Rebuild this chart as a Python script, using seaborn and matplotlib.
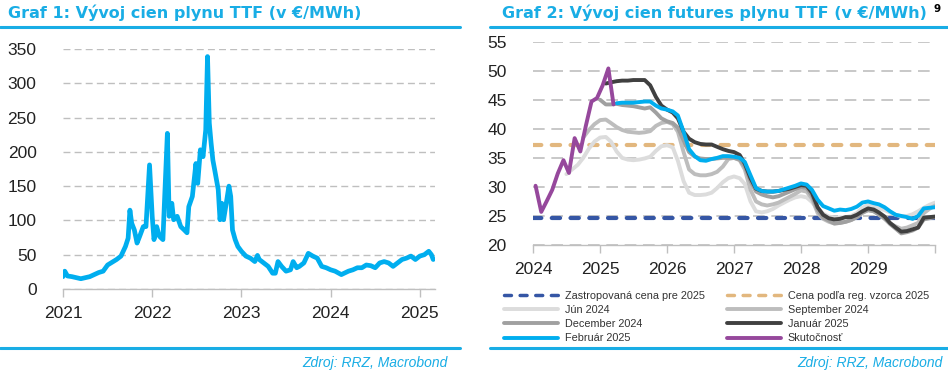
import numpy as np
import pandas as pd
import seaborn as sns
import matplotlib.pyplot as plt
from matplotlib.lines import Line2D

## Data - Graf 1 (TTF spot, decimal year)
ttf_year = [2021.00, 2021.02, 2021.05, 2021.10, 2021.20, 2021.30, 2021.40, 2021.45, 2021.50,
            2021.60, 2021.65, 2021.70, 2021.73, 2021.75, 2021.77, 2021.80, 2021.83, 2021.86,
            2021.90, 2021.93, 2021.97, 2022.00, 2022.02, 2022.05, 2022.08, 2022.12, 2022.14,
            2022.17, 2022.19, 2022.22, 2022.24, 2022.28, 2022.32, 2022.36, 2022.39, 2022.41,
            2022.45, 2022.49, 2022.51, 2022.54, 2022.57, 2022.60, 2022.62, 2022.64, 2022.66,
            2022.68, 2022.70, 2022.74, 2022.76, 2022.78, 2022.80, 2022.83, 2022.86, 2022.88,
            2022.90, 2022.93, 2022.96, 2023.00, 2023.05, 2023.10, 2023.15, 2023.18, 2023.20,
            2023.25, 2023.30, 2023.35, 2023.38, 2023.41, 2023.45, 2023.50, 2023.55, 2023.58,
            2023.62, 2023.65, 2023.70, 2023.75, 2023.80, 2023.85, 2023.90, 2023.95, 2024.00,
            2024.05, 2024.12, 2024.20, 2024.25, 2024.30, 2024.35, 2024.40, 2024.45, 2024.50,
            2024.55, 2024.60, 2024.65, 2024.70, 2024.75, 2024.80, 2024.85, 2024.90, 2024.95,
            2025.00, 2025.05, 2025.10, 2025.13, 2025.15]
ttf_price = [18, 26, 19, 18, 15, 18, 24, 26, 35,
             43, 48, 62, 74, 115, 96, 86, 67, 77,
             91, 91, 181, 106, 72, 91, 77, 72, 135,
             227, 106, 125, 101, 106, 91, 86, 82, 120,
             135, 183, 154, 203, 193, 232, 339, 242, 213,
             188, 174, 145, 101, 125, 101, 125, 150, 135,
             86, 72, 62, 55, 48, 45, 40, 49, 43,
             38, 33, 23, 23, 40, 33, 26, 28, 40,
             31, 33, 38, 52, 48, 45, 33, 31, 28,
             26, 21, 26, 28, 31, 31, 35, 34, 31,
             38, 40, 38, 33, 38, 43, 45, 48, 43,
             48, 50, 55, 50, 43]

## Data - Graf 2 (futures curves, monthly)
actual_start = '2024-01'
actual_price = [30.2, 25.7, 27.5, 29.5, 32.3, 34.6, 32.4, 38.4, 36.1, 40.5, 44.7, 45.3,
                47.5, 50.4, 44.2]

jun24_start = '2024-07'
jun24 = [32.2, 33.0, 33.8, 35.0, 36.6, 37.8, 38.5, 38.6, 37.8, 36.1, 35.0, 34.7,
         34.6, 34.7, 34.9, 35.2, 36.2, 37.0, 37.2, 36.8, 34.5, 31.0, 29.0, 28.6,
         28.6, 28.7, 29.0, 29.8, 30.8, 31.5, 31.8, 31.5, 30.5, 27.5, 25.8, 25.6,
         25.8, 26.2, 26.8, 27.3, 27.8, 28.2, 28.4, 28.2, 27.4, 26.2, 25.4, 24.9,
         24.7, 24.7, 24.8, 25.0, 25.5, 26.4, 26.9, 26.7, 26.3, 26.0, 25.6, 25.2,
         24.9, 25.0, 25.3, 25.8, 26.4, 26.9, 27.3]

sep24_start = '2024-10'
sep24 = [38.5, 39.8, 40.8, 41.5, 41.6, 41.0, 40.3, 39.8, 39.5, 39.4, 39.3, 39.4,
         39.6, 40.5, 41.0, 41.2, 40.8, 39.5, 36.0, 33.0, 32.2, 32.0, 32.0, 32.2,
         32.6, 33.5, 34.8, 35.0, 34.6, 33.0, 29.5, 27.5, 27.0, 26.8, 27.0, 27.3,
         27.8, 28.3, 28.8, 29.4, 29.2, 28.0, 25.5, 24.5, 24.0, 23.7, 23.8, 24.0,
         24.3, 24.8, 25.5, 26.0, 25.8, 25.2, 24.5, 23.7, 23.2, 22.8, 23.0, 23.4,
         23.8, 25.5, 26.2, 26.8]

dec24_start = '2025-01'
dec24 = [45.0, 44.2, 44.2, 44.3, 44.1, 44.0, 43.9, 43.7, 43.5, 43.7, 42.8, 41.8,
         41.3, 41.0, 40.2, 38.0, 36.0, 35.2, 34.9, 34.8, 34.8, 34.9, 35.0, 35.0,
         35.0, 34.7, 33.5, 31.0, 29.2, 28.7, 28.4, 28.2, 28.4, 28.8, 29.2, 29.6,
         30.0, 29.8, 28.5, 26.0, 24.7, 24.2, 23.7, 23.8, 24.0, 24.3, 24.8, 25.6,
         26.0, 25.8, 25.3, 24.6, 23.6, 22.8, 22.0, 22.2, 22.5, 23.0, 24.4, 24.6,
         24.8]

jan25_start = '2025-02'
jan25 = [47.8, 48.0, 48.2, 48.3, 48.3, 48.4, 48.4, 48.4, 47.5, 45.5, 44.0, 43.3,
         42.8, 41.8, 39.5, 38.3, 37.7, 37.4, 37.3, 37.3, 36.9, 36.5, 36.2, 36.0,
         35.5, 34.0, 31.5, 29.7, 29.3, 29.2, 29.2, 29.3, 29.5, 29.7, 30.0, 30.3,
         30.2, 29.0, 26.5, 25.2, 24.6, 24.4, 24.5, 24.8, 24.8, 25.2, 25.8, 26.3,
         26.1, 25.6, 24.9, 23.8, 23.0, 22.3, 22.4, 22.7, 23.0, 24.7, 24.8, 24.9]

feb25_start = '2025-04'
feb25 = [44.4, 44.5, 44.5, 44.5, 44.6, 44.7, 44.7, 44.0, 43.5, 43.3, 43.0, 42.3,
         39.5, 36.5, 35.3, 34.6, 34.5, 34.8, 35.0, 35.3, 35.3, 35.2, 35.0, 34.3,
         32.0, 29.8, 29.3, 29.2, 29.2, 29.3, 29.6, 29.9, 30.2, 30.6, 30.4, 29.5,
         27.8, 26.7, 26.3, 25.9, 26.1, 26.0, 26.2, 26.6, 27.3, 27.5, 27.2, 27.0,
         26.5, 25.8, 25.2, 25.0, 24.8, 24.5, 25.0, 26.3, 26.4, 26.5]

cap_price = 24.6       # Zastropovana cena pre 2025
formula_price = 37.3   # Cena podla reg. vzorca 2025

## Style
BLUE = '#00AEEF'
TITLE_BLUE = '#19ADE5'
GRID = '#BFBFBF'
sns.set_theme(style='white')
plt.rcParams['font.family'] = ['Liberation Sans', 'DejaVu Sans']

fig = plt.figure(figsize=(9.48, 3.77), dpi=100)
W, H = 948, 377


def fx(px):
    return px / W


def fy(py):
    return 1 - py / H


def style_axis(ax, dash):
    for s in ['left', 'right', 'top']:
        ax.spines[s].set_visible(False)
    ax.spines['bottom'].set_color(GRID)
    ax.spines['bottom'].set_linewidth(1)
    ax.yaxis.grid(True, color=GRID, linestyle=dash[0], linewidth=dash[1])
    ax.xaxis.grid(False)
    ax.set_axisbelow(True)
    ax.tick_params(axis='x', which='both', bottom=True, length=6, width=1,
                   color=GRID, labelsize=12.5, labelcolor='#222222', pad=6)
    ax.tick_params(axis='y', left=False, labelsize=12.5, labelcolor='#222222', pad=13)
    ax.set_xlabel('')
    ax.set_ylabel('')


## Graf 1
ax1 = fig.add_axes([fx(63), fy(289), fx(435) - fx(63), fy(49) - fy(289)])
sns.lineplot(x=ttf_year, y=ttf_price, ax=ax1, color=BLUE, linewidth=3.4,
             solid_joinstyle='round', solid_capstyle='round')
ax1.set_xlim(2021, 2025.17)
ax1.set_ylim(0, 350)
ax1.set_yticks(range(0, 351, 50))
ax1.set_xticks([2021, 2022, 2023, 2024, 2025])
ax1.set_xticklabels(['2021', '2022', '2023', '2024', '2025'])
style_axis(ax1, ((0, (5, 3)), 1.0))

## Graf 2
ax2 = fig.add_axes([fx(533), fy(245), fx(935) - fx(533), fy(41.7) - fy(245)])


def month_dates(start, n, offset_days=0):
    return pd.date_range(start, periods=n, freq='MS') + pd.Timedelta(days=offset_days)


ax2.axhline(cap_price, color='#3556A5', linewidth=3, dashes=(2, 2.5),
            dash_capstyle='round', zorder=2)
ax2.axhline(formula_price, color='#E2B77E', linewidth=3, dashes=(2, 2.5),
            dash_capstyle='round', zorder=2)

series = [
    ('Jún 2024', jun24_start, jun24, '#DCDCDC', 0),
    ('September 2024', sep24_start, sep24, '#BDBDBD', 0),
    ('December 2024', dec24_start, dec24, '#A0A0A0', 0),
    ('Január 2025', jan25_start, jan25, '#404040', 0),
    ('Február 2025', feb25_start, feb25, BLUE, 0),
    ('Skutočnosť', actual_start, actual_price, '#96489C', 14),
]
handles = {}
for name, start, vals, col, off in series:
    d = month_dates(start, len(vals), off)
    sns.lineplot(x=d, y=vals, ax=ax2, color=col, linewidth=2.8, zorder=3,
                 solid_joinstyle='round', solid_capstyle='round')
    handles[name] = Line2D([0], [0], color=col, linewidth=2.8)

ax2.set_xlim(pd.Timestamp('2024-01-01'), pd.Timestamp('2030-01-01'))
ax2.set_ylim(20, 55)
ax2.set_yticks(range(20, 56, 5))
years = [pd.Timestamp(f'{y}-01-01') for y in range(2024, 2031)]
ax2.set_xticks(years)
ax2.set_xticklabels([str(y.year) for y in years[:-1]] + [''])
style_axis(ax2, ((0, (7, 4)), 1.2))
if ax2.get_legend() is not None:
    ax2.get_legend().remove()

## Legend (two columns)
h_cap = Line2D([0], [0], color='#3556A5', linewidth=2.5, dashes=(2, 2.5), dash_capstyle='round')
h_form = Line2D([0], [0], color='#E2B77E', linewidth=2.5, dashes=(2, 2.5), dash_capstyle='round')
col1 = [(h_cap, 'Zastropovaná cena pre 2025'), (handles['Jún 2024'], 'Jún 2024'),
        (handles['December 2024'], 'December 2024'), (handles['Február 2025'], 'Február 2025')]
col2 = [(h_form, 'Cena podľa reg. vzorca 2025'), (handles['September 2024'], 'September 2024'),
        (handles['Január 2025'], 'Január 2025'), (handles['Skutočnosť'], 'Skutočnosť')]
for items, xpos in [(col1, 504), (col2, 727)]:
    leg = fig.legend([h for h, _ in items], [t for _, t in items], loc='upper left',
                     bbox_to_anchor=(fx(xpos), fy(291)), frameon=False, fontsize=7.8,
                     handlelength=5.0, handletextpad=0.6, labelspacing=0.38,
                     borderpad=0, borderaxespad=0)
    for t in leg.get_texts():
        t.set_color('#333333')

## Titles, rules, sources
title_kw = dict(fontsize=11.5, fontweight='bold', color=TITLE_BLUE,
                family=['DejaVu Sans'], va='center', ha='left')
fig.text(fx(8), fy(13), 'Graf 1: Vývoj cien plynu TTF (v €/MWh)', **title_kw)
fig.text(fx(502), fy(13), 'Graf 2: Vývoj cien futures plynu TTF (v €/MWh)', **title_kw)
fig.text(fx(934), fy(9), '9', fontsize=7.5, fontweight='bold', color='black',
         family=['DejaVu Sans'], va='center', ha='left')

for x0, x1 in [(0, 460), (490, 948)]:
    for yy in (27, 348):
        fig.add_artist(Line2D([fx(x0), fx(x1)], [fy(yy), fy(yy)], color=TITLE_BLUE,
                              linewidth=2.2, transform=fig.transFigure))

src_kw = dict(fontsize=10, style='italic', color=TITLE_BLUE, va='center', ha='right')
fig.text(fx(448), fy(363), 'Zdroj: RRZ, Macrobond', **src_kw)
fig.text(fx(943), fy(363), 'Zdroj: RRZ, Macrobond', **src_kw)

fig.savefig('out.png', dpi=100)
